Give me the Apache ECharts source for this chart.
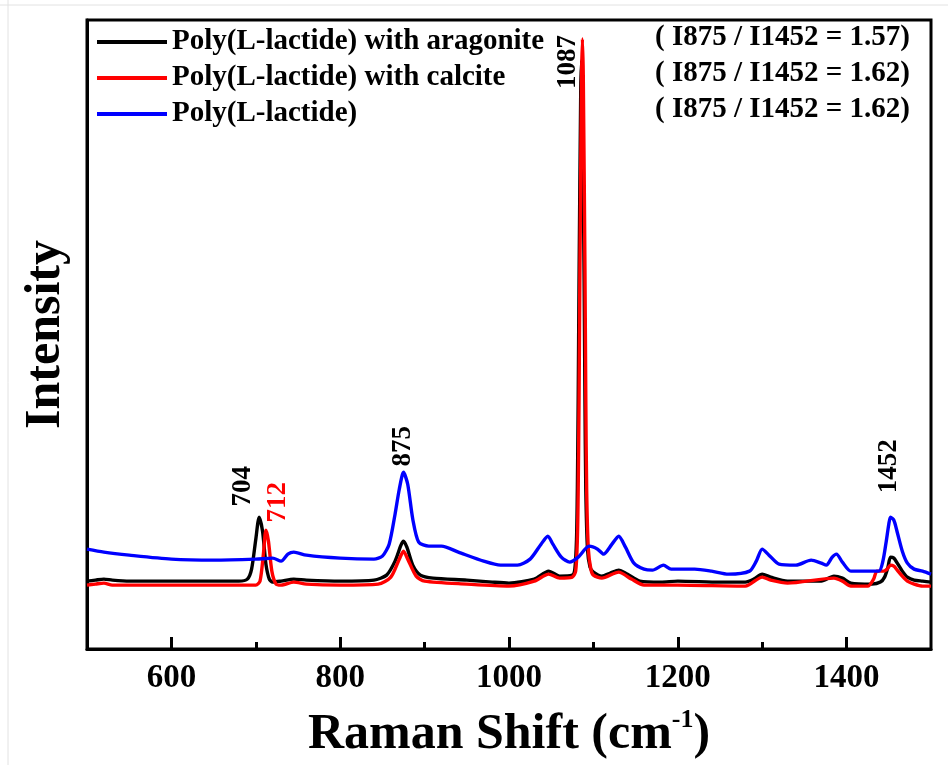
<!DOCTYPE html>
<html>
<head>
<meta charset="utf-8">
<script src="https://cdn.jsdelivr.net/npm/echarts@6/dist/echarts.min.js"></script>
<style>
  html, body { margin: 0; padding: 0; background: #fff; }
  #chart { width: 948px; height: 765px; }
</style>
</head>
<body>
<div id="chart"></div>
<script>
// Raman spectra: [shift (cm-1), intensity (a.u.)]
const aragoniteSpectrum = [
  [500,68],[510,69],[520,70],[530,69],[550,68],[600,68],[650,68],[680,68],[690,70],[695,80],
  [700,110],[704,132],[708,118],[712,85],[716,70],[720,67],[730,68],[745,70],[760,69],[800,68],
  [840,69],[855,74],[865,88],[872,104],[875,108],[879,102],[886,84],[895,74],[910,71],[950,69],
  [980,67],[1000,66],[1030,70],[1047,78],[1060,73],[1075,74],[1078,80],[1080,110],[1081,160],
  [1082,250],[1083,370],[1085,560],[1086,590],[1087,560],[1089,370],[1090,250],[1091,160],[1093,100],
  [1096,82],[1100,77],[1110,73],
  [1120,76],[1130,79],[1140,75],[1155,68],[1180,67],[1200,68],[1250,67],[1280,67],[1290,70],
  [1300,75],[1310,72],[1330,68],[1370,68],[1385,73],[1395,71],[1405,66],[1430,65],[1440,67],
  [1445,72],[1449,82],[1452,92],[1456,91],[1460,86],[1466,78],[1472,72],[1480,69],[1490,68],[1500,67]
];
const calciteSpectrum = [
  [500,64],[510,65],[520,66],[530,64],[600,64],[680,64],[700,64],[705,68],[709,95],[712,119],
  [715,108],[719,78],[724,65],[730,64],[745,67],[760,65],[800,64],[845,65],[860,72],[870,90],
  [875,98],[880,90],[890,73],[900,68],[950,65],[1000,63],[1030,68],[1047,75],[1060,71],[1075,72],
  [1079,78],[1081,110],[1082,160],[1083,250],[1084,380],[1086,575],[1087,611],[1088,575],[1090,380],
  [1091,250],[1092,160],[1094,100],[1097,80],[1100,74],[1110,71],[1130,77],[1145,70],[1160,64],
  [1200,64],[1280,63],[1300,72],
  [1310,69],[1330,66],[1385,71],[1395,68],[1405,63],[1425,63],[1432,70],[1436,78],[1444,78],
  [1448,80],[1452,84],[1456,83],[1460,79],[1466,73],[1472,68],[1480,65],[1490,63],[1500,63]
];
const plaSpectrum = [
  [500,100],[520,97],[550,94],[600,90],[650,89],[700,90],[720,91],[730,88],[738,95],[745,97],
  [760,94],[800,91],[840,90],[850,93],[858,105],[865,135],[870,160],[875,177],[880,165],[886,130],
  [893,107],[905,103],[920,103],[940,97],[970,88],[990,84],[1010,84],[1025,90],[1038,105],[1046,113],
  [1052,105],[1062,92],[1072,87],[1082,92],[1095,103],[1105,100],[1112,95],[1122,105],[1130,113],
  [1138,102],[1148,86],[1160,80],[1170,79],[1183,84],[1192,80],[1220,80],[1240,78],[1260,75],
  [1285,78],[1293,88],[1300,100],[1308,94],[1320,85],[1340,84],[1358,89],[1370,86],[1376,84],
  [1383,92],[1388,95],[1395,87],[1405,78],[1438,78],[1443,88],[1447,108],[1450,125],[1452,132],
  [1456,129],[1460,117],[1466,98],[1472,86],[1480,80],[1490,78],[1500,75]
];

const seriesNames = ['Poly(L-lactide) with aragonite', 'Poly(L-lactide) with calcite', 'Poly(L-lactide)'];
const intensityRatios = [1.57, 1.62, 1.62];   // I875 / I1452
const peakShifts = [704, 712, 875, 1087, 1452];
const majorTicks = [600, 800, 1000, 1200, 1400];
const minorTicks = [700, 900, 1100, 1300];

const spectra = [aragoniteSpectrum, calciteSpectrum, plaSpectrum];
const colors = ['#000000', '#ff0000', '#0000ff'];
const SERIF = '"Liberation Serif", "Times New Roman", serif';

// which spectrum each peak label sits on, its colour and screen-pixel nudge
const peakLabelStyle = [
  { spec: 0, color: '#000000', dx: -16, dy: -31 },
  { spec: 1, color: '#ff0000', dx: 12, dy: -28 },
  { spec: 2, color: '#000000', dx: 0, dy: -26 },
  { spec: 1, color: '#000000', dx: -14, dy: 23 },
  { spec: 2, color: '#000000', dx: -1, dy: -51 }
];

function peakHeight(spec, shift) {
  let m = -Infinity;
  spec.forEach(p => { if (Math.abs(p[0] - shift) <= 6 && p[1] > m) m = p[1]; });
  return m;
}

const lineSeries = spectra.map((d, i) => ({
  name: seriesNames[i],
  type: 'line',
  data: d,
  symbol: 'none',
  smooth: 0.25,
  color: colors[i],
  lineStyle: { width: 3.4, color: colors[i] },
  z: 3 + i
}));

// rotated labels: the offset is turned with the text, so swap axes
const labelSeries = {
  type: 'scatter',
  silent: true,
  symbolSize: 1,
  itemStyle: { color: 'rgba(255,255,255,0)' },
  z: 10,
  label: {
    show: true,
    position: 'inside',
    rotate: 90,
    fontFamily: SERIF,
    fontWeight: 'bold',
    fontSize: 27,
    textBorderWidth: 0,
    opacity: 1
  },
  data: peakShifts.map((s, i) => {
    const st = peakLabelStyle[i];
    return {
      value: [s, peakHeight(spectra[st.spec], s)],
      label: {
        offset: [-st.dy, st.dx],
        formatter: String(s),
        color: st.color,
        textBorderWidth: 0,
        fontFamily: SERIF,
        fontWeight: 'bold',
        fontSize: 27
      }
    };
  })
};

const chart = echarts.init(document.getElementById('chart'), null, { renderer: 'canvas' });

const option = {
  animation: false,
  backgroundColor: '#ffffff',
  grid: {
    left: 87, top: 20, width: 844, height: 630,
    show: true, borderColor: '#000', borderWidth: 3, backgroundColor: 'transparent'
  },
  legend: {
    data: seriesNames,
    orient: 'vertical',
    left: 92,
    top: 22,
    icon: 'rect',
    itemWidth: 70,
    itemHeight: 4,
    itemGap: 6,
    selectedMode: false,
    textStyle: { fontFamily: SERIF, fontWeight: 'bold', fontSize: 29, color: '#000', lineHeight: 30 }
  },
  xAxis: [
    {
      type: 'value', min: 500, max: 1500, position: 'bottom',
      name: '{a|Raman Shift (cm}{s|-1}{a|)}',
      nameLocation: 'middle',
      nameGap: 58,
      nameTextStyle: {
        rich: {
          a: { fontFamily: SERIF, fontWeight: 'bold', fontSize: 50, color: '#000', lineHeight: 56 },
          s: { fontFamily: SERIF, fontWeight: 'bold', fontSize: 26, color: '#000', lineHeight: 56, verticalAlign: 'top', padding: [0, 0, 22, 0] }
        }
      },
      splitLine: { show: false },
      axisLine: { show: true, lineStyle: { color: '#000', width: 3 } },
      axisTick: { show: true, inside: true, length: 12, lineStyle: { width: 3, color: '#000' }, customValues: majorTicks },
      axisLabel: {
        customValues: majorTicks, margin: 13,
        formatter: v => String(v),
        fontFamily: SERIF, fontWeight: 'bold', fontSize: 33, color: '#000'
      }
    },
    {
      type: 'value', min: 500, max: 1500, position: 'bottom',
      splitLine: { show: false },
      axisLine: { show: false },
      axisLabel: { show: false },
      axisTick: { show: true, inside: true, length: 7, lineStyle: { width: 3, color: '#000' }, customValues: minorTicks }
    }
  ],
  yAxis: {
    type: 'value', min: 0, max: 630,
    name: 'Intensity',
    nameLocation: 'middle',
    nameRotate: 90,
    nameGap: 16,
    nameTextStyle: { fontFamily: SERIF, fontWeight: 'bold', fontSize: 50, color: '#000' },
    splitLine: { show: false },
    axisLine: { show: true, lineStyle: { color: '#000', width: 3 } },
    axisTick: { show: false },
    axisLabel: { show: false }
  },
  graphic: [
    { type: 'line', silent: true, shape: { x1: 8, y1: 0, x2: 8, y2: 765 }, style: { stroke: '#e2e2e2', lineWidth: 1 } },
    { type: 'line', silent: true, shape: { x1: 0, y1: 5, x2: 948, y2: 5 }, style: { stroke: '#e2e2e2', lineWidth: 1 } }
  ].concat(intensityRatios.map((r, i) => ({
    type: 'text',
    silent: true,
    x: 910,
    y: 38 + i * 36,
    style: {
      text: '( I875 / I1452 = ' + r.toFixed(2) + ')',
      fontFamily: SERIF, fontWeight: 'bold', fontSize: 29, fill: '#000',
      align: 'right', verticalAlign: 'middle'
    }
  }))),
  series: lineSeries.concat([labelSeries])
};

chart.setOption(option);
</script>
</body>
</html>
